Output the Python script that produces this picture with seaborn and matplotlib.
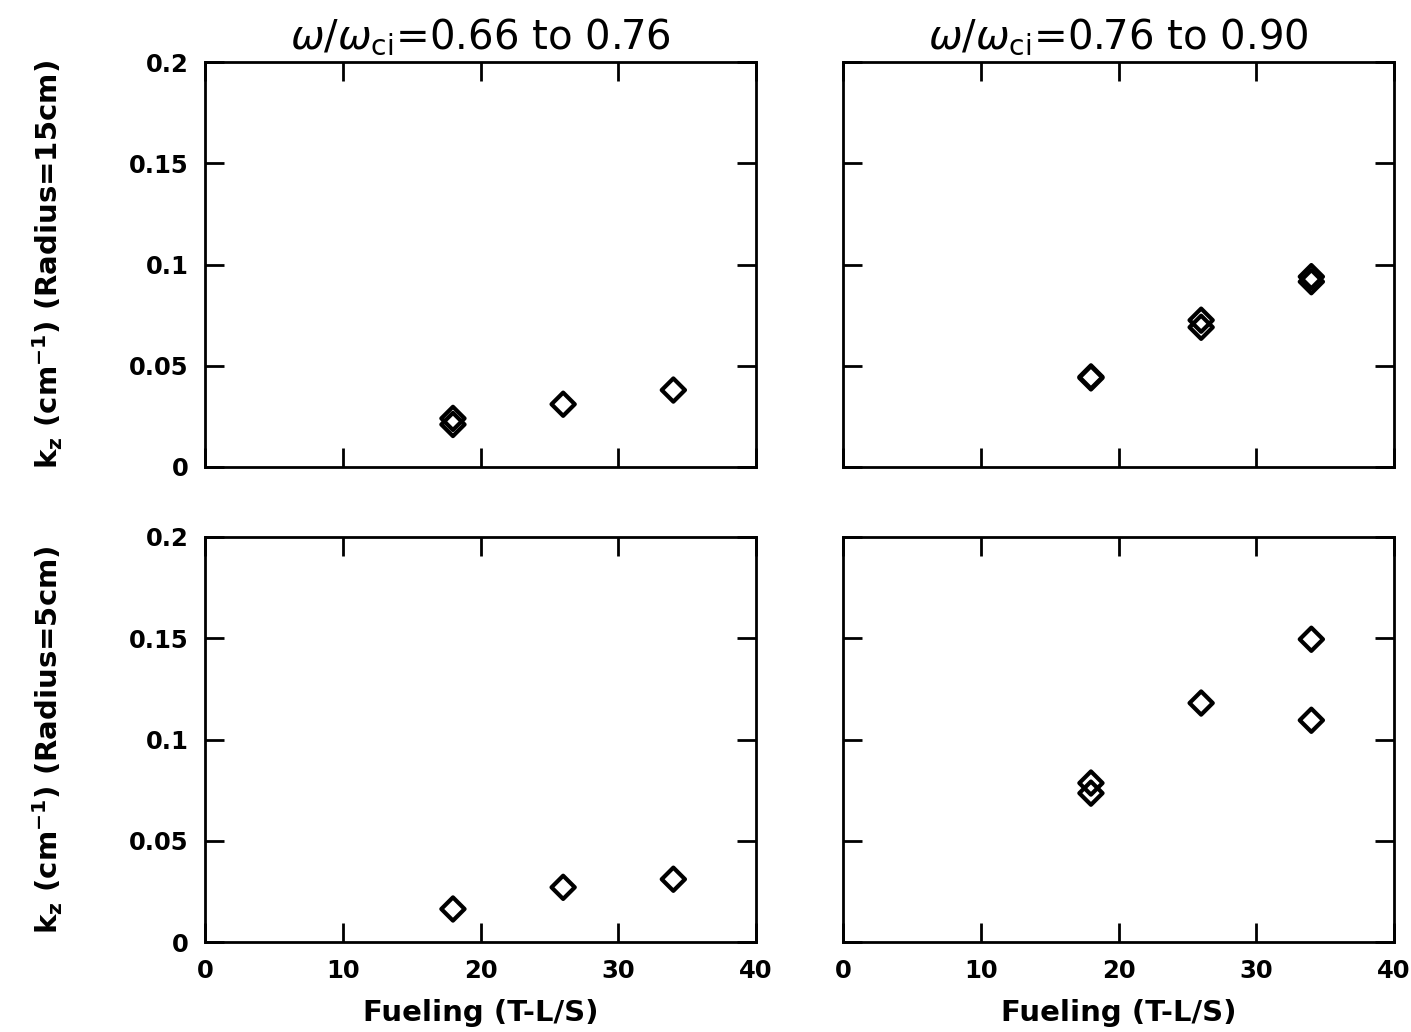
import matplotlib
matplotlib.use("Agg")
import matplotlib.pyplot as plt
import seaborn as sns
import pandas as pd
from matplotlib.ticker import FuncFormatter

# Data
kz_r15_low_x = [18, 18, 26, 34]
kz_r15_low = [0.024, 0.021, 0.031, 0.038]
kz_r15_high_x = [18, 18, 26, 26, 34, 34]
kz_r15_high = [0.0445, 0.0440, 0.0725, 0.0690, 0.0940, 0.0915]
kz_r5_low_x = [18, 26, 34]
kz_r5_low = [0.0163, 0.0270, 0.0310]
kz_r5_high_x = [18, 18, 26, 34, 34]
kz_r5_high = [0.0785, 0.0735, 0.1180, 0.1495, 0.1095]

col_titles = [r"$\omega/\omega_{\mathregular{ci}}$=0.66 to 0.76",
              r"$\omega/\omega_{\mathregular{ci}}$=0.76 to 0.90"]
row_labels = [r"k$_\mathregular{z}$ (cm$^\mathregular{-1}$) (Radius=15cm)",
              r"k$_\mathregular{z}$ (cm$^\mathregular{-1}$) (Radius=5cm)"]
xlabel = "Fueling (T-L/S)"
xticks = [0, 10, 20, 30, 40]
yticks = [0, 0.05, 0.1, 0.15, 0.2]

sns.set_theme(style="ticks")
plt.rcParams['font.family'] = ['DejaVu Sans']
plt.rcParams['mathtext.fontset'] = 'dejavusans'
plt.rcParams['text.color'] = 'black'
plt.rcParams['axes.labelcolor'] = 'black'

fig = plt.figure(figsize=(14.11, 10.32), dpi=100)
lefts = [205/1411, 843/1411]
width = 551/1411
bottoms = [1-467/1032, 1-942/1032]
height = 405/1032

panels = [
    (0, 0, kz_r15_low_x, kz_r15_low),
    (0, 1, kz_r15_high_x, kz_r15_high),
    (1, 0, kz_r5_low_x, kz_r5_low),
    (1, 1, kz_r5_high_x, kz_r5_high),
]

fmt = FuncFormatter(lambda v, p: "0" if v == 0 else ("%g" % v))

for r, c, xs, ys in panels:
    ax = fig.add_axes([lefts[c], bottoms[r], width, height])
    df = pd.DataFrame({"x": xs, "y": ys})
    sns.scatterplot(data=df, x="x", y="y", ax=ax, marker="D", s=140,
                    facecolor="none", edgecolor="black", linewidth=3.0, legend=False)
    ax.set_xlim(0, 40)
    ax.set_ylim(0, 0.2)
    ax.set_xticks(xticks)
    ax.set_yticks(yticks)
    ax.yaxis.set_major_formatter(fmt)
    ax.tick_params(direction="in", length=14, width=2, top=True, right=True,
                   labelsize=17.5, pad=12, colors="black")
    for s in ax.spines.values():
        s.set_linewidth(2)
        s.set_color("black")
    ax.set_xlabel("")
    ax.set_ylabel("")
    if r == 0:
        ax.tick_params(labelbottom=False)
        ax.set_title(col_titles[c], fontsize=29, pad=10, color="black")
    else:
        ax.set_xlabel(xlabel, fontsize=21, labelpad=12)
    if c == 1:
        ax.tick_params(labelleft=False)
    else:
        ax.set_ylabel(row_labels[r], fontsize=21, labelpad=46)
    for t in ax.get_xticklabels() + ax.get_yticklabels():
        t.set_fontweight("bold")
    ax.xaxis.label.set_fontweight("bold")
    ax.yaxis.label.set_fontweight("bold")

fig.savefig("out.png", dpi=100, facecolor="white")
